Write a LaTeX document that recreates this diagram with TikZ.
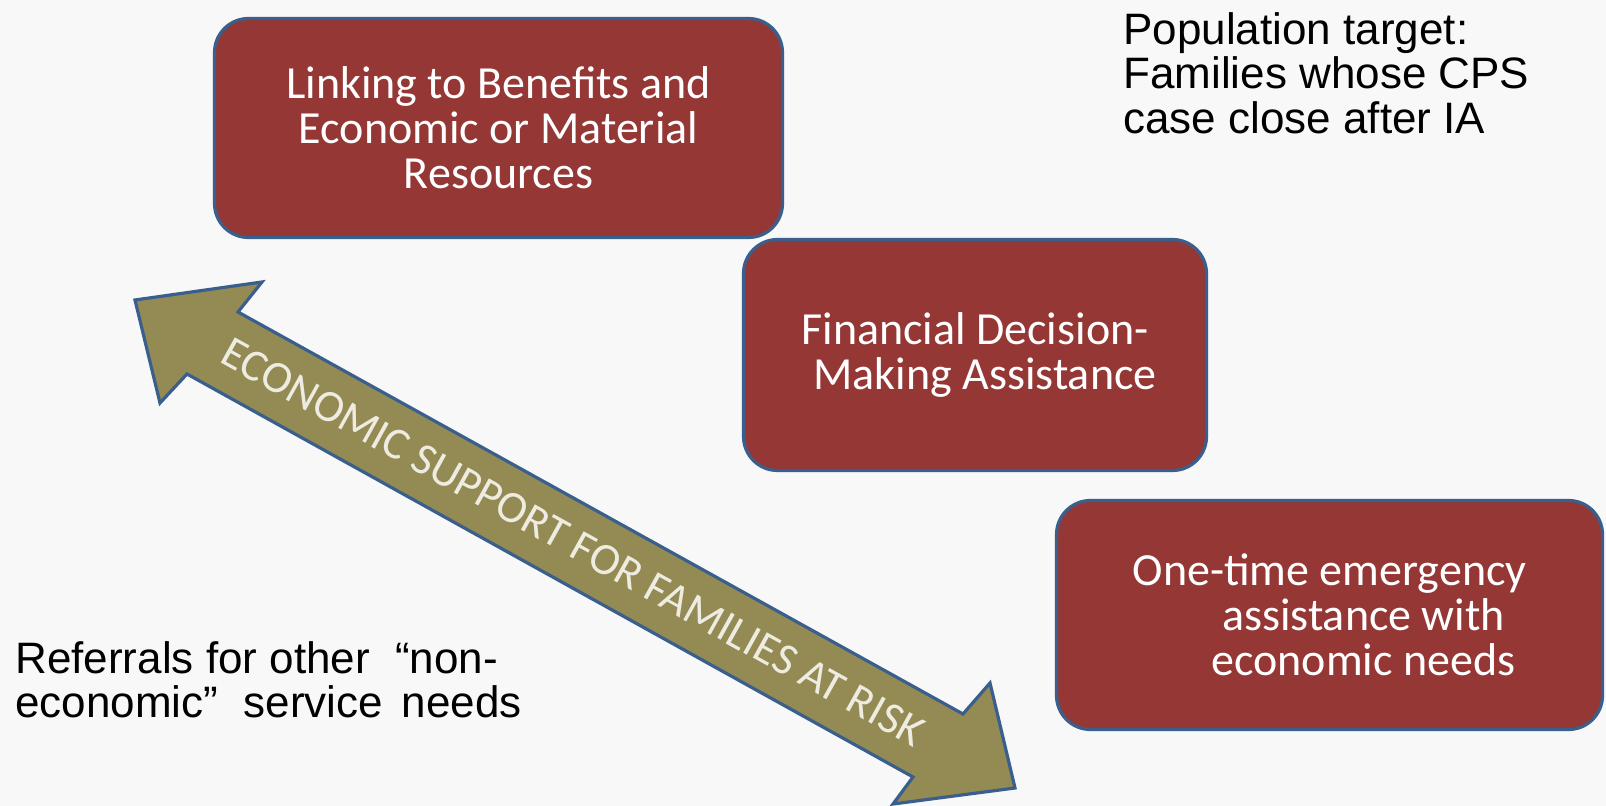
\documentclass[tikz,border=0pt]{standalone}
\usepackage{fontspec}
\setmainfont{Carlito}
\newfontfamily\arialfont{Liberation Sans}

\definecolor{boxred}{HTML}{953735}
\definecolor{boxedge}{HTML}{3A5F8C}
\definecolor{arrowfill}{HTML}{948A54}
\definecolor{arrowtext}{HTML}{EEECE1}
\definecolor{paper}{HTML}{F8F8F8}

\begin{document}
\begin{tikzpicture}[x=0.5pt,y=-0.5pt]

	\tikzstyle{service}=[rectangle,rounded corners=17pt,
		fill=boxred,draw=boxedge,line width=1.6pt,
		text=white,align=center,inner sep=0pt,
		font=\fontsize{23}{22.5}\selectfont]
	\tikzstyle{note}=[align=left,anchor=north west,inner sep=0pt,
		font=\arialfont\fontsize{22}{22.3}\selectfont]

	\fill[paper] (0,0) rectangle (1606,806);
	\useasboundingbox (0,0) rectangle (1606,806);

	% the double block arrow
	\draw[fill=arrowfill,draw=boxedge,line width=1.6pt]
		(135,300) -- (262,282) -- (238,312) -- (963,714) -- (990,683)
		-- (1015,788) -- (893,804) -- (913,777) -- (187,374) -- (160,403) -- cycle;
	\node[rotate=-29,text=arrowtext,inner sep=0pt,font=\fontsize{22.5}{22}\selectfont] (risk) at (573,542)
		{ECONOMIC SUPPORT FOR FAMILIES AT RISK};

	\node[service,minimum width=284pt,minimum height=109.5pt] (linking) at (498.5,128)
		{Linking to Benefits and\\Economic or Material\\Resources};
	\node[service,minimum width=231.5pt,minimum height=115.5pt] (decision) at (975,355)
		{Financial Decision-\\\hspace*{10pt}Making Assistance};
	\node[service,minimum width=273pt,minimum height=114.5pt] (emergency) at (1329.5,615)
		{One-time emergency\\\hspace*{34pt}assistance with\\\hspace*{34pt}economic needs};

	\node[note] (target) at (1123,12) {Population target:\\Families whose CPS\\case close after IA};
	\node[note] (referrals) at (15,641) {Referrals for other\hspace{0.3em} “non-\\economic”\hspace{0.3em} service\hspace{0.15em} needs};

\end{tikzpicture}
\end{document}
